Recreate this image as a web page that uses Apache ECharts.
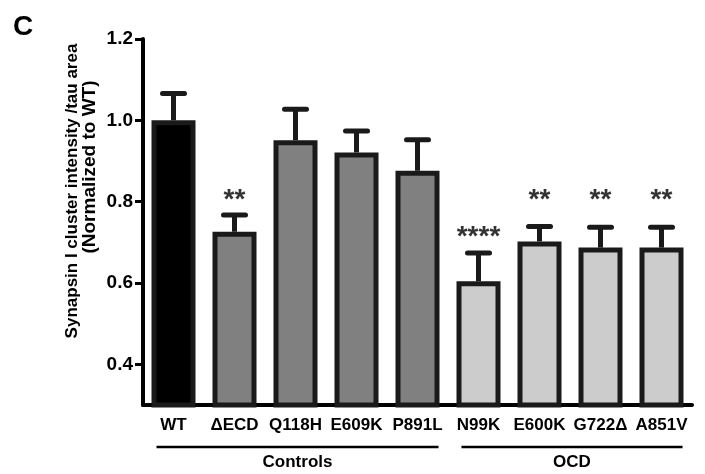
<!DOCTYPE html>
<html>
<head>
<meta charset="utf-8">
<script src="https://cdn.jsdelivr.net/npm/echarts@6/dist/echarts.min.js"></script>
<style>html,body{margin:0;padding:0;background:#fff}#c{width:705px;height:474px}</style>
</head>
<body>
<div id="c"></div>
<script>
const categories = ['WT', 'ΔECD', 'Q118H', 'E609K', 'P891L', 'N99K', 'E600K', 'G722Δ', 'A851V'];
const groups = ['control0', 'control', 'control', 'control', 'control', 'ocd', 'ocd', 'ocd', 'ocd'];
const means = [1.0, 0.726, 0.951, 0.921, 0.876, 0.604, 0.702, 0.687, 0.687];
const sems = [0.066, 0.041, 0.076, 0.053, 0.076, 0.070, 0.037, 0.050, 0.050];
const sigLabels = ['', '**', '', '', '', '****', '**', '**', '**'];
const sigLevels = [null, 0.818, null, null, null, 0.726, 0.818, 0.818, 0.818];
const yTicks = [0.4, 0.6, 0.8, 1.0, 1.2];
const groupNames = ['Controls', 'OCD'];
const groupRanges = [[0, 4], [5, 8]];

const FONT = 'Arial, "Liberation Sans", sans-serif';
const fillFor = {control0: '#000000', control: '#808080', ocd: '#cccccc'};

const chart = echarts.init(document.getElementById('c'), null, {renderer: 'canvas'});

const option = {
  animation: false,
  backgroundColor: '#ffffff',
  grid: {left: 143, right: 13, top: 39, bottom: 69, containLabel: false},
  xAxis: {
    type: 'category',
    data: categories,
    axisLine: {lineStyle: {color: '#000', width: 4}},
    axisTick: {alignWithLabel: true, length: 7, lineStyle: {color: '#000', width: 3}},
    axisLabel: {color: '#000', fontFamily: FONT, fontWeight: 'bold', fontSize: 17, margin: 12, interval: 0}
  },
  yAxis: {
    type: 'value',
    min: 0.3,
    max: 1.2,
    splitLine: {show: false},
    axisLine: {show: true, lineStyle: {color: '#000', width: 4}},
    axisTick: {show: true, length: 8, customValues: yTicks, lineStyle: {color: '#000', width: 3}},
    axisLabel: {
      color: '#000', fontFamily: FONT, fontWeight: 'bold', fontSize: 19, margin: 10,
      customValues: yTicks,
      formatter: v => v.toFixed(1)
    }
  },
  series: [
    {
      type: 'custom',
      z: 1,
      data: means.map((m, i) => [i, m, m + sems[i]]),
      renderItem: function (params, api) {
        const x = api.coord([api.value(0), api.value(1)]);
        const top = api.coord([api.value(0), api.value(2)]);
        const hw = 11;
        return {
          type: 'group',
          children: [
            {type: 'line', shape: {x1: x[0], y1: x[1], x2: x[0], y2: top[1]}, style: {stroke: '#1a1a1a', lineWidth: 5}},
            {type: 'line', shape: {x1: x[0] - hw, y1: top[1], x2: x[0] + hw, y2: top[1]}, style: {stroke: '#1a1a1a', lineWidth: 5, lineCap: 'round'}}
          ]
        };
      }
    },
    {
      type: 'bar',
      z: 2,
      barWidth: 44,
      clip: true,
      data: means.map((m, i) => ({
        value: m,
        itemStyle: {color: fillFor[groups[i]], borderColor: '#1a1a1a', borderWidth: 5}
      }))
    },
    {
      type: 'scatter',
      z: 3,
      symbolSize: 0,
      data: sigLevels.map((l, i) => [i, l, sigLabels[i]]).filter(d => d[1] !== null),
      label: {
        show: true,
        position: 'inside',
        formatter: p => p.data[2],
        fontFamily: FONT,
        fontWeight: 'bold',
        fontSize: 28,
        color: '#000',
        offset: [0, 6]
      }
    }
  ]
};
chart.setOption(option);

const graphics = [];
groupRanges.forEach((r, gi) => {
  const x0 = chart.convertToPixel({xAxisIndex: 0}, r[0]) - 17;
  const x1 = chart.convertToPixel({xAxisIndex: 0}, r[1]) + 21;
  graphics.push({
    type: 'line', shape: {x1: x0, y1: 447, x2: x1, y2: 447},
    style: {stroke: '#000', lineWidth: 2.5}
  });
  graphics.push({
    type: 'text', x: (x0 + x1) / 2, y: 462,
    style: {text: groupNames[gi], font: 'bold 17px ' + FONT, fill: '#000', align: 'center', verticalAlign: 'middle'}
  });
});
graphics.push({
  type: 'text', x: 13, y: 27,
  style: {text: 'C', font: 'bold 28px ' + FONT, fill: '#000', align: 'left', verticalAlign: 'middle'}
});
graphics.push({
  type: 'text', x: 72, y: 191, rotation: Math.PI / 2,
  style: {text: 'Synapsin I cluster intensity /tau area', font: 'bold 17px ' + FONT, fill: '#000', align: 'center', verticalAlign: 'middle'}
});
graphics.push({
  type: 'text', x: 90, y: 167, rotation: Math.PI / 2,
  style: {text: '(Normalized to WT)', font: 'bold 19px ' + FONT, fill: '#000', align: 'center', verticalAlign: 'middle'}
});
chart.setOption({graphic: graphics});
</script>
</body>
</html>
